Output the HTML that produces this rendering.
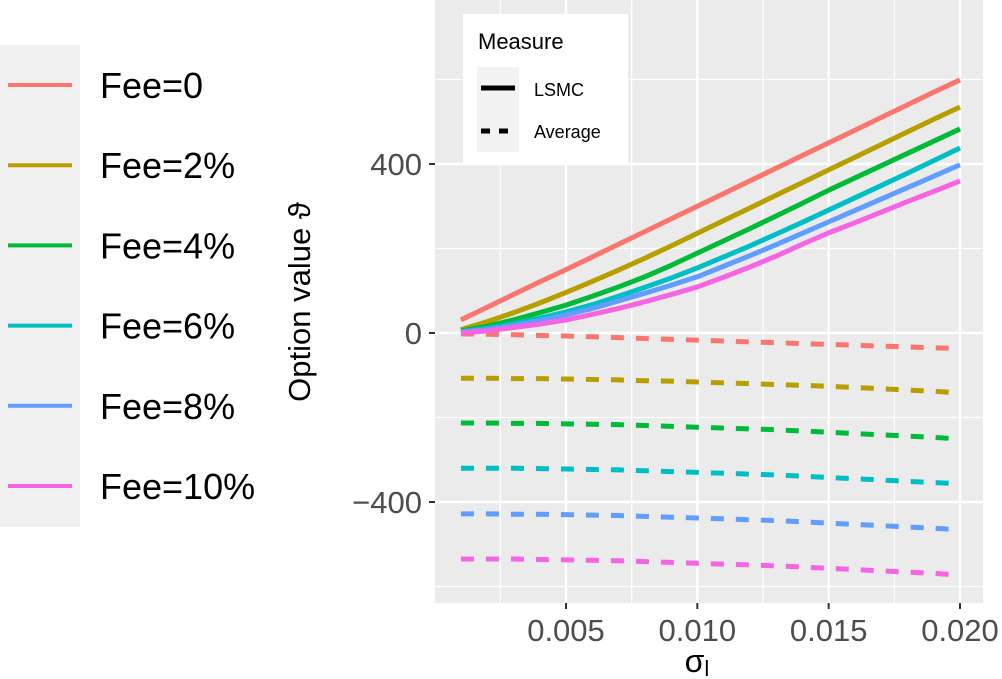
<!DOCTYPE html>
<html><head><meta charset="utf-8"><style>
html,body{margin:0;padding:0;background:#fff;}
svg{display:block;font-family:"Liberation Sans",sans-serif;}
</style></head><body>
<svg id="chart" width="1002" height="679" viewBox="0 0 1002 679">
<rect x="0" y="0" width="1002" height="679" fill="#fff"/>
<g id="left-legend">
<rect x="0" y="45" width="80" height="482" fill="#f0f0f0"/>
</g>
<rect id="panel" x="435" y="0" width="548" height="603" fill="#ebebeb"/>
<g id="grid"></g>
<g id="series"></g>
<g id="axes"></g>
<text x="310" y="302" transform="rotate(-90 310 302)" text-anchor="middle" font-size="31" fill="#000">Option value ϑ</text>
<text x="697" y="672" text-anchor="middle" font-size="32" fill="#000">σ<tspan font-size="22" dy="4">l</tspan></text>
<g>
<rect x="463" y="14" width="165" height="151" fill="#fff"/>
<text x="478" y="49" font-size="22" fill="#000">Measure</text>
<rect x="477" y="67" width="42" height="85" fill="#f2f2f2"/>
<line x1="481" y1="88" x2="515" y2="88" stroke="#000" stroke-width="5"/>
<line x1="481" y1="131" x2="515" y2="131" stroke="#000" stroke-width="5" stroke-dasharray="9,9"/>
<text x="534" y="96" font-size="18" fill="#000">LSMC</text>
<text x="534" y="138" font-size="18" fill="#000">Average</text>
</g>
</svg>
<script>
const xValues = [0.001,0.002,0.003,0.004,0.005,0.006,0.007,0.008,0.009,0.010,0.011,0.012,0.013,0.014,0.015,0.016,0.017,0.018,0.019,0.020];
const feeLabels = ["Fee=0","Fee=2%","Fee=4%","Fee=6%","Fee=8%","Fee=10%"];
const lsmcFee0 = [31,61,91,121,150,180,210,240,270,300,330,360,390,420,450,480,510,540,570,599];
const lsmcFee2 = [8,27,48,71,96,122,149,177,206,236,266,296,326,356,386,416,446,476,506,535];
const lsmcFee4 = [5,16,31,48,66,87,109,133,160,189,218,247,277,307,338,367,396,425,454,483];
const lsmcFee6 = [3,11,22,35,50,67,87,108,130,154,180,206,234,262,291,320,349,378,408,438];
const lsmcFee8 = [2,8,18,29,43,58,76,94,113,133,158,183,209,236,263,290,317,344,371,398];
const lsmcFee10 = [0,5,13,21,31,44,58,74,91,109,132,156,182,210,237,261,286,311,335,360];
const avgFee0 = [-2,-3,-4,-6,-7,-9,-11,-13,-15,-17,-19,-21,-23,-25,-27,-29,-31,-33,-35,-37];
const avgFee2 = [-107,-107,-108,-108,-109,-110,-111,-113,-114,-116,-118,-120,-122,-124,-126,-129,-132,-135,-138,-142];
const avgFee4 = [-213,-213,-214,-214,-215,-216,-217,-219,-221,-223,-225,-227,-229,-232,-235,-238,-241,-244,-247,-251];
const avgFee6 = [-320,-320,-320,-321,-322,-323,-324,-326,-328,-330,-332,-334,-336,-339,-342,-345,-348,-351,-354,-357];
const avgFee8 = [-428,-428,-429,-429,-430,-431,-432,-434,-436,-438,-440,-442,-444,-447,-450,-453,-456,-459,-462,-466];
const avgFee10 = [-535,-535,-535,-536,-537,-538,-539,-541,-543,-545,-547,-549,-551,-554,-557,-560,-563,-566,-569,-573];
const xTicks = [0.005,0.010,0.015,0.020];
const xTickLabels = ["0.005","0.010","0.015","0.020"];
const xMinor = [0.0025,0.0075,0.0125,0.0175];
const yTicks = [400,0,-400];
const yTickLabels = ["400","0","\u2212400"];
const yMinor = [600,200,-200,-600];

const colors = ["#F8766D","#B79F00","#00BA38","#00BFC4","#619CFF","#F564E3"];
const lsmc = [lsmcFee0,lsmcFee2,lsmcFee4,lsmcFee6,lsmcFee8,lsmcFee10];
const avg = [avgFee0,avgFee2,avgFee4,avgFee6,avgFee8,avgFee10];
const NS = "http://www.w3.org/2000/svg";
function xs(v){ return 566 + (v - 0.005) / 0.015 * 394; }
function ys(v){ return 333 - v * 0.4225; }
function mk(tag, attrs, parent){ const e = document.createElementNS(NS, tag); for (const k in attrs) e.setAttribute(k, attrs[k]); parent.appendChild(e); return e; }

const grid = document.getElementById('grid');
xMinor.forEach(v => { const l = mk('line',{x1:xs(v),x2:xs(v),y1:0,y2:603,stroke:'#fff','stroke-width':1.2},grid);

 });
yMinor.forEach(v => { const l = mk('line',{x1:435,x2:983,y1:ys(v),y2:ys(v),stroke:'#fff','stroke-width':1.2},grid);

 });
xTicks.forEach(v => { const l = mk('line',{x1:xs(v),x2:xs(v),y1:0,y2:603,stroke:'#fff','stroke-width':2.4},grid);

 });
yTicks.forEach(v => { const l = mk('line',{x1:435,x2:983,y1:ys(v),y2:ys(v),stroke:'#fff','stroke-width':2.4},grid);

 });

const axes = document.getElementById('axes');
xTicks.forEach((v,i) => {
  const t = mk('line',{x1:xs(v),x2:xs(v),y1:603,y2:609,stroke:'#333','stroke-width':2},axes);
  
  
  const tx = mk('text',{x:xs(v),y:641,'text-anchor':'middle','font-size':31,fill:'#4d4d4d'},axes);
  tx.textContent = xTickLabels[i];
  
  
});
yTicks.forEach((v,i) => {
  const t = mk('line',{x1:429,x2:435,y1:ys(v),y2:ys(v),stroke:'#333','stroke-width':2},axes);
  
  
  const tx = mk('text',{x:422,y:ys(v)+11,'text-anchor':'end','font-size':31,fill:'#4d4d4d'},axes);
  tx.textContent = yTickLabels[i];
  
  
});

const series = document.getElementById('series');
avg.forEach((arr,i) => {
  const p = mk('polyline',{points:arr.map((v,j)=>xs(xValues[j])+','+ys(v)).join(' '),fill:'none',stroke:colors[i],'stroke-width':5,'stroke-dasharray':'13,12'},series);
  
  
});
lsmc.forEach((arr,i) => {
  const p = mk('polyline',{points:arr.map((v,j)=>xs(xValues[j])+','+ys(v)).join(' '),fill:'none',stroke:colors[i],'stroke-width':5,'stroke-linejoin':'round'},series);
  
  
});

const leg = document.getElementById('left-legend');
feeLabels.forEach((lab,i) => {
  const y = 85 + i * 80.2;
  const l = mk('line',{x1:8,x2:72,y1:y,y2:y,stroke:colors[i],'stroke-width':4},leg);
  
  
  const t = mk('text',{x:100,y:y+13,'font-size':36,fill:'#000'},leg);
  t.textContent = lab;
  
  
});
</script>
</body></html>
